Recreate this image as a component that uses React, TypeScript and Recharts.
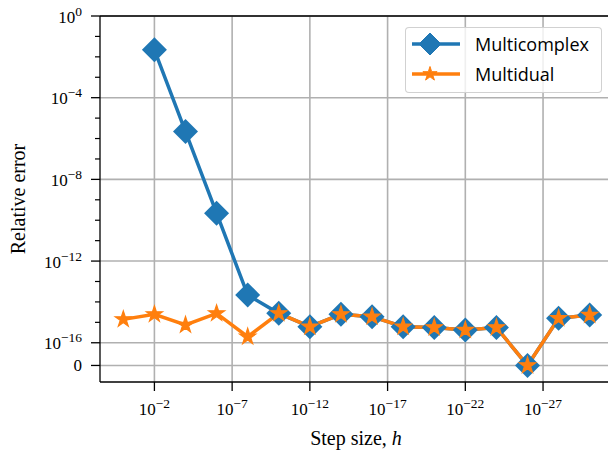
import { LineChart, Line, XAxis, YAxis, CartesianGrid, ReferenceLine } from 'recharts'

// step sizes as powers of ten, h = 10^0 ... 10^-30
const H_EXP = [0, -2, -4, -6, -8, -10, -12, -14, -16, -18, -20, -22, -24, -26, -28, -30]

// relative errors (0 = exact)
const MULTICOMPLEX = [
  null, 2.2e-2, 2.2e-6, 2.2e-10, 2.2e-14, 2.75e-15, 6.1e-16, 2.46e-15,
  1.9e-15, 6.1e-16, 5.6e-16, 4.2e-16, 5.6e-16, 0, 1.58e-15, 2.3e-15,
]
const MULTIDUAL = [
  1.4e-15, 2.46e-15, 7.4e-16, 2.75e-15, 1.98e-16, 2.75e-15, 6.1e-16, 2.46e-15,
  1.9e-15, 6.1e-16, 5.6e-16, 4.2e-16, 5.6e-16, 0, 1.58e-15, 2.3e-15,
]

const X_TICKS = [-2, -7, -12, -17, -22, -27]
const Y_MAJOR = [1, 1e-4, 1e-8, 1e-12, 1e-16, 0]
const Y_MINOR = [1e-1, 1e-2, 1e-3, 1e-5, 1e-6, 1e-7, 1e-9, 1e-10, 1e-11, 1e-13, 1e-14, 1e-15]

const BLUE = '#1f77b4'
const ORANGE = '#ff7f0e'
const GRID = '#b0b0b0'
const SERIF = '"Liberation Serif", "DejaVu Serif", serif'

// symlog like matplotlib: linthresh 1e-16, linscale 1
const LINTHRESH = 1e-16
const LINSCALE = 1 / (1 - 1 / 10)
const symlog = (v: number) =>
  Math.abs(v) >= LINTHRESH
    ? Math.sign(v) * (Math.log10(Math.abs(v) / LINTHRESH) + LINSCALE)
    : (v / LINTHRESH) * LINSCALE

const Y_TOP = symlog(1)
const Y_BOTTOM = -0.81

const data = H_EXP.map((e, i) => ({
  x: e,
  mc: MULTICOMPLEX[i] == null ? null : symlog(MULTICOMPLEX[i] as number),
  md: symlog(MULTIDUAL[i]),
}))

const findMajor = (t: number) => Y_MAJOR.find(v => Math.abs(symlog(v) - t) < 1e-6)

const expText = (v: number) => {
  const n = Math.round(Math.log10(v))
  return n === 0 ? '0' : '\u2212' + Math.abs(n)
}

const YTick = (props: any) => {
  const { x, y, payload } = props
  const major = findMajor(payload.value)
  if (major === undefined) {
    return <line x1={x - 5} x2={x} y1={y} y2={y} stroke="#000" strokeWidth={1.2} />
  }
  return (
    <g>
      <line x1={x - 9} x2={x} y1={y} y2={y} stroke="#000" strokeWidth={1.3} />
      {major === 0 ? (
        <text x={x - 18} y={y + 6} textAnchor="end" fontFamily={SERIF} fontSize={17} fill="#000">0</text>
      ) : (
        <text x={x - 18} y={y + 6.5} textAnchor="end" fontFamily={SERIF} fontSize={17} fill="#000">
          10
          <tspan dy={-7} fontSize={13.5}>{expText(major)}</tspan>
        </text>
      )}
    </g>
  )
}

const XTick = (props: any) => {
  const { x, y, payload } = props
  const e = payload.value as number
  return (
    <g>
      <line x1={x} x2={x} y1={y} y2={y + 9} stroke="#000" strokeWidth={1.3} />
      <text x={x} y={y + 33} textAnchor="middle" fontFamily={SERIF} fontSize={17} fill="#000">
        10
        <tspan dy={-7} fontSize={13.5}>{'\u2212' + Math.abs(e)}</tspan>
      </text>
    </g>
  )
}

const diamondPath = (cx: number, cy: number, r: number) =>
  `M${cx},${cy - r}L${cx + r},${cy}L${cx},${cy + r}L${cx - r},${cy}Z`

const starPath = (cx: number, cy: number, r: number) => {
  const inner = r * 0.381966
  let d = ''
  for (let k = 0; k < 10; k++) {
    const rad = k % 2 === 0 ? r : inner
    const a = -Math.PI / 2 + (k * Math.PI) / 5
    d += (k === 0 ? 'M' : 'L') + (cx + rad * Math.cos(a)).toFixed(2) + ',' + (cy + rad * Math.sin(a)).toFixed(2)
  }
  return d + 'Z'
}

const renderDiamond = (props: any) => {
  const { cx, cy, index, value } = props
  if (cx == null || cy == null || value == null) return <g key={`d-${index}`} />
  return <path key={`d-${index}`} d={diamondPath(cx, cy, 12.5)} fill={BLUE} />
}

const renderStar = (props: any) => {
  const { cx, cy, index, value } = props
  if (cx == null || cy == null || value == null) return <g key={`s-${index}`} />
  return <path key={`s-${index}`} d={starPath(cx, cy, 8.5)} fill={ORANGE} stroke={ORANGE} strokeWidth={1.2} strokeLinejoin="miter" />
}

const XLabel = () => (
  <text x={356} y={445} textAnchor="middle" fontFamily={SERIF} fontSize={20} fill="#000">
    Step size, <tspan fontStyle="italic">h</tspan>
  </text>
)

const YLabel = () => (
  <text x={25} y={199} transform="rotate(-90 25 199)" textAnchor="middle" fontFamily={SERIF} fontSize={20} fill="#000">
    Relative error
  </text>
)

function LegendBox() {
  const rows = [
    { name: 'Multicomplex', color: BLUE, marker: diamondPath(24, 12, 11) },
    { name: 'Multidual', color: ORANGE, marker: starPath(24, 12, 7.5) },
  ]
  return (
    <div
      style={{
        position: 'absolute',
        left: 405,
        top: 27,
        width: 197,
        height: 66,
        boxSizing: 'border-box',
        background: 'rgba(255,255,255,0.8)',
        border: '1px solid rgba(204,204,204,0.9)',
        borderRadius: 4,
      }}
    >
      {rows.map((r, i) => (
        <div key={r.name} style={{ position: 'absolute', left: 0, top: 4 + i * 30, height: 24, width: 195 }}>
          <svg width={60} height={24} style={{ position: 'absolute', left: 0, top: 0 }}>
            <line x1={6} x2={54} y1={12} y2={12} stroke={r.color} strokeWidth={3.5} />
            <path d={r.marker} fill={r.color} stroke={r.color} strokeWidth={1} />
          </svg>
          <span
            style={{
              position: 'absolute',
              left: 69,
              top: 0,
              lineHeight: '24px',
              fontFamily: '"Open Sans", sans-serif',
              fontSize: 18,
              color: '#000',
              whiteSpace: 'nowrap',
            }}
          >
            {r.name}
          </span>
        </div>
      ))}
    </div>
  )
}

export default function App() {
  const yTicks = [...Y_MAJOR, ...Y_MINOR].map(symlog)
  return (
    <div style={{ position: 'absolute', left: 0, top: 0, width: 608, height: 454, overflow: 'hidden', background: '#fff' }}>
      <LineChart width={620} height={454} data={data} margin={{ top: 16, right: 7, bottom: 0, left: 0 }}>
        <CartesianGrid
          stroke={GRID}
          strokeWidth={1.6}
          horizontalValues={Y_MAJOR.map(symlog)}
          verticalValues={X_TICKS}
        />
        <XAxis
          dataKey="x"
          type="number"
          domain={[-31.5, 1.5]}
          reversed
          allowDataOverflow
          ticks={X_TICKS}
          interval={0}
          tickSize={0}
          tickMargin={0}
          tickLine={false}
          tick={<XTick />}
          height={72}
          axisLine={{ stroke: '#000', strokeWidth: 1.3 }}
          label={{ content: XLabel }}
        />
        <YAxis
          type="number"
          domain={[Y_BOTTOM, Y_TOP]}
          allowDataOverflow
          ticks={yTicks}
          interval={0}
          tickSize={0}
          tickMargin={0}
          tickLine={false}
          tick={<YTick />}
          width={100}
          axisLine={{ stroke: '#000', strokeWidth: 1.3 }}
          label={{ content: YLabel }}
        />
        <ReferenceLine y={Y_TOP} stroke="#000" strokeWidth={1.3} />
        <Line
          dataKey="mc"
          type="linear"
          stroke={BLUE}
          strokeWidth={3.5}
          dot={renderDiamond}
          activeDot={false}
          isAnimationActive={false}
        />
        <Line
          dataKey="md"
          type="linear"
          stroke={ORANGE}
          strokeWidth={3.5}
          dot={renderStar}
          activeDot={false}
          isAnimationActive={false}
        />
      </LineChart>
      <LegendBox />
    </div>
  )
}
